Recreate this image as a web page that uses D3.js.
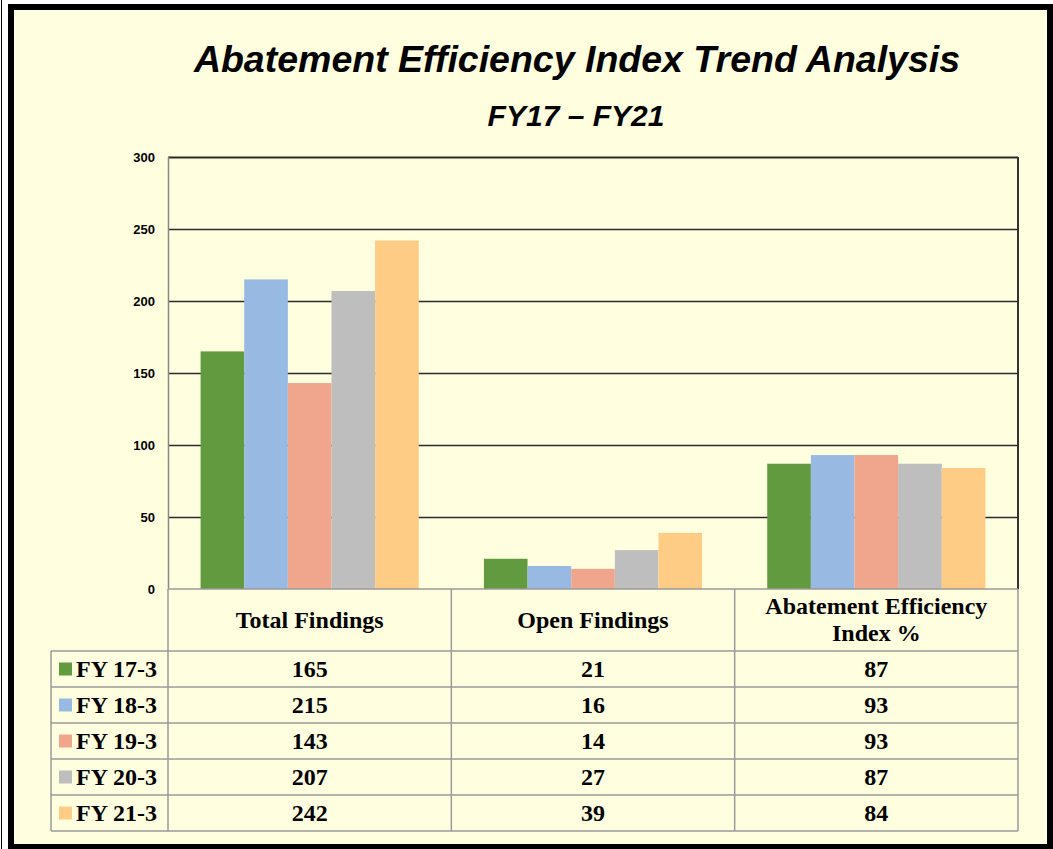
<!DOCTYPE html>
<html><head><meta charset="utf-8">
<script src="https://cdn.jsdelivr.net/npm/d3@7"></script>
<style>html,body{margin:0;padding:0;background:#fff;}svg{display:block;}</style>
</head><body>
<script>
const categories = ["Total Findings", "Open Findings", "Abatement Efficiency Index %"];
const seriesNames = ["FY 17-3", "FY 18-3", "FY 19-3", "FY 20-3", "FY 21-3"];
const fy17 = [165, 21, 87];
const fy18 = [215, 16, 93];
const fy19 = [143, 14, 93];
const fy20 = [207, 27, 87];
const fy21 = [242, 39, 84];
const yTicks = [0, 50, 100, 150, 200, 250, 300];
const colors = ["#629B3F", "#98B9E1", "#EFA68C", "#BEBEBE", "#FFCC86"];
const seriesValues = [fy17, fy18, fy19, fy20, fy21];

(function(){
const W = 1053, H = 849;
const svg = d3.select("body").append("svg").attr("width", W).attr("height", H);
svg.append("rect").attr("x", 11).attr("y", 7).attr("width", 1039).attr("height", 840)
  .attr("fill", "#FFFFE0").attr("stroke", "#000").attr("stroke-width", 6);
svg.append("line").attr("x1",1.5).attr("x2",1.5).attr("y1",0).attr("y2",H).attr("stroke","#000").attr("stroke-width",1);

svg.append("text").attr("x", 577).attr("y", 72).attr("text-anchor", "middle")
  .style("font-family", "Liberation Sans, Arial, sans-serif").style("font-weight", "bold").style("font-style", "italic")
  .style("font-size", "37.5px").text("Abatement Efficiency Index Trend Analysis");
svg.append("text").attr("x", 576).attr("y", 126).attr("text-anchor", "middle")
  .style("font-family", "Liberation Sans, Arial, sans-serif").style("font-weight", "bold").style("font-style", "italic")
  .style("font-size", "30px").text("FY17 \u2013 FY21");

const pLeft = 168, pRight = 1018, pTop = 157, pBottom = 589;
const x0 = d3.scaleBand().domain(categories).range([pLeft, pRight]).paddingInner(0.23).paddingOuter(0.115);
const x1 = d3.scaleBand().domain(seriesNames).range([0, x0.bandwidth()]);
const y = d3.scaleLinear().domain([0, 300]).range([pBottom, pTop]);
const xCol = d3.scaleBand().domain(categories).range([pLeft, pRight]);

const yAxis = d3.axisLeft(y).tickValues(yTicks).tickSize(0).tickPadding(13);
const gy = svg.append("g").attr("transform", `translate(${pLeft},0)`).call(yAxis);
gy.select(".domain").remove();
gy.selectAll("text").style("font-family", "Liberation Sans, Arial, sans-serif").style("font-weight", "bold")
  .style("font-size", "13px").attr("fill", "#000");
svg.append("g").selectAll("line").data(yTicks.filter(d => d > 0)).join("line")
  .attr("x1", pLeft).attr("x2", pRight).attr("y1", d => y(d) + 0.5).attr("y2", d => y(d) + 0.5)
  .attr("stroke", "#2a2a2a").attr("stroke-width", d => d === 300 ? 2 : 1.3);
svg.append("line").attr("x1", pRight).attr("x2", pRight).attr("y1", pTop).attr("y2", pBottom)
  .attr("stroke", "#333").attr("stroke-width", 2);
svg.append("line").attr("x1", pLeft + 0.5).attr("x2", pLeft + 0.5).attr("y1", pTop).attr("y2", pBottom)
  .attr("stroke", "#888").attr("stroke-width", 1.5);

seriesNames.forEach((s, i) => {
  svg.append("g").selectAll("rect").data(seriesValues[i]).join("rect")
    .attr("x", (d, j) => x0(categories[j]) + x1(s))
    .attr("width", x1.bandwidth())
    .attr("y", d => y(d)).attr("height", d => y(0) - y(d))
    .attr("fill", colors[i]);
});

const headerBottom = 651, rowH = 36, tableLeft = 51;
const rowY = d3.scaleBand().domain(seriesNames).range([headerBottom, headerBottom + rowH * 5]);
const tableBottom = headerBottom + rowH * 5;
const gridColor = "#9a9a9a";
const tg = svg.append("g").attr("stroke", gridColor).attr("stroke-width", 1.5);
tg.append("line").attr("x1", pLeft).attr("x2", pRight).attr("y1", pBottom).attr("y2", pBottom);
[headerBottom, ...seriesNames.map(s => rowY(s) + rowH)].forEach(yy => {
  tg.append("line").attr("x1", tableLeft).attr("x2", pRight).attr("y1", yy).attr("y2", yy);
});
[pLeft, ...categories.map(c => xCol(c) + xCol.bandwidth())].forEach(xx => {
  tg.append("line").attr("x1", xx).attr("x2", xx).attr("y1", pBottom).attr("y2", tableBottom);
});
tg.append("line").attr("x1", tableLeft).attr("x2", tableLeft).attr("y1", headerBottom).attr("y2", tableBottom);

const serif = "Liberation Serif, Times New Roman, serif";
const fs = "24px";
categories.forEach(c => {
  const cx = xCol(c) + xCol.bandwidth() / 2;
  const t = svg.append("text").attr("text-anchor", "middle").style("font-family", serif)
    .style("font-weight", "bold").style("font-size", fs);
  if (c.startsWith("Abatement")) {
    t.append("tspan").attr("x", cx).attr("y", 614).text("Abatement Efficiency");
    t.append("tspan").attr("x", cx).attr("y", 641).text("Index %");
  } else {
    t.attr("x", cx).attr("y", 628).text(c);
  }
});
seriesNames.forEach((s, i) => {
  const yc = rowY(s) + rowH / 2;
  svg.append("rect").attr("x", 59).attr("y", yc - 6.5).attr("width", 13).attr("height", 13).attr("fill", colors[i]);
  svg.append("text").attr("x", 76).attr("y", yc + 8).style("font-family", serif)
    .style("font-weight", "bold").style("font-size", fs).text(s);
  seriesValues[i].forEach((v, j) => {
    svg.append("text").attr("x", xCol(categories[j]) + xCol.bandwidth() / 2).attr("y", yc + 8)
      .attr("text-anchor", "middle").style("font-family", serif)
      .style("font-weight", "bold").style("font-size", fs).text(v);
  });
});
})();
</script>
</body></html>
